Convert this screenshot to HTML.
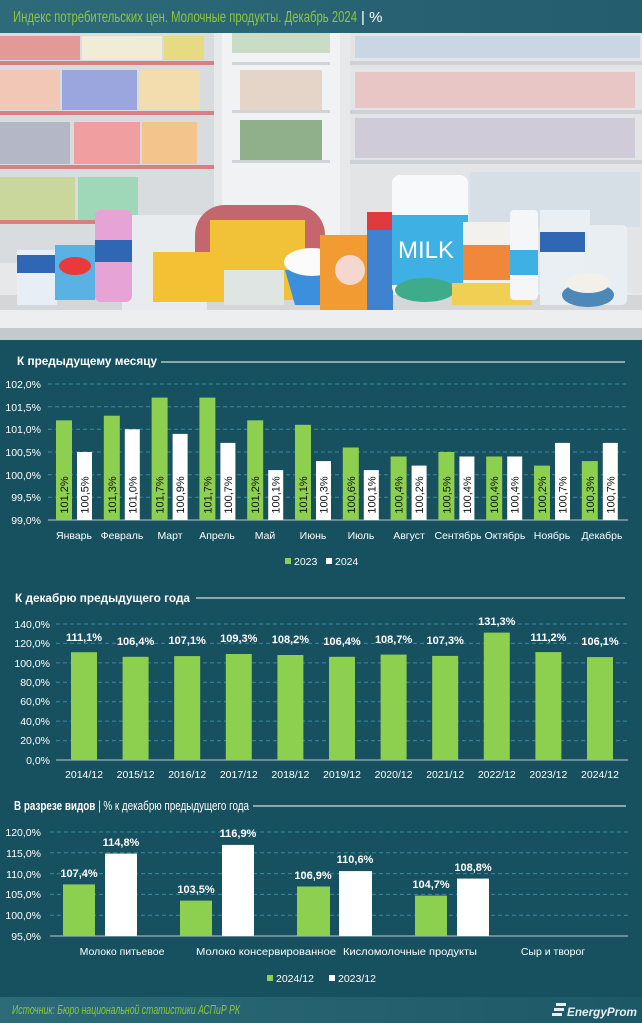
<!DOCTYPE html>
<html><head><meta charset="utf-8"><style>
body{margin:0;width:642px;height:1023px;overflow:hidden;background:#17505f;font-family:"Liberation Sans",sans-serif}
svg{display:block}
</style></head><body>
<svg width="642" height="1023" xmlns="http://www.w3.org/2000/svg" font-family="Liberation Sans, sans-serif">
<defs>
<linearGradient id="hd" x1="0" x2="1"><stop offset="0" stop-color="#2e6a7a"/><stop offset="1" stop-color="#245d6d"/></linearGradient>
<linearGradient id="ft" x1="0" x2="1"><stop offset="0" stop-color="#2d6b79"/><stop offset="1" stop-color="#1d5866"/></linearGradient>
</defs>
<rect width="642" height="1023" fill="#17505f"/>
<rect width="642" height="33" fill="url(#hd)"/>
<text x="13" y="22" font-size="16" fill="#8dc63f" textLength="344" lengthAdjust="spacingAndGlyphs">Индекс потребительских цен. Молочные продукты. Декабрь 2024</text>
<text x="361" y="22" font-size="15" fill="#fff">| %</text>

<g>
<rect x="0" y="33" width="642" height="305" fill="#e6e8ea"/>
<rect x="0" y="33" width="214" height="230" fill="#d9dcdf"/>
<rect x="0" y="36" width="80" height="24" fill="#e29a97"/><rect x="82" y="36" width="80" height="24" fill="#f1ecd6"/><rect x="164" y="36" width="40" height="24" fill="#e6da83"/>
<rect x="0" y="61" width="214" height="4" fill="#d97f80"/>
<rect x="0" y="70" width="60" height="40" fill="#f2c7b6"/><rect x="62" y="70" width="75" height="40" fill="#9aa6dd"/><rect x="140" y="70" width="60" height="40" fill="#f3dcae"/>
<rect x="0" y="111" width="214" height="4" fill="#d97f80"/>
<rect x="0" y="122" width="70" height="42" fill="#b3b7c6"/><rect x="74" y="122" width="66" height="42" fill="#f09ea0"/><rect x="142" y="122" width="55" height="42" fill="#f3c48c"/>
<rect x="0" y="165" width="214" height="4" fill="#d97f80"/>
<rect x="0" y="177" width="75" height="43" fill="#c9d69c"/><rect x="78" y="177" width="60" height="43" fill="#9fd7b9"/>
<rect x="0" y="220" width="214" height="4" fill="#d97f80"/>
<rect x="222" y="33" width="118" height="250" fill="#f0f2f3"/>
<rect x="232" y="33" width="98" height="20" fill="#c9dcc6"/>
<rect x="232" y="62" width="98" height="3" fill="#d0d4d6"/>
<rect x="240" y="70" width="82" height="40" fill="#e4d5c8"/>
<rect x="232" y="110" width="98" height="3" fill="#d0d4d6"/>
<rect x="240" y="120" width="82" height="42" fill="#8fb08b"/>
<rect x="232" y="160" width="98" height="3" fill="#d0d4d6"/>
<rect x="350" y="33" width="292" height="260" fill="#e2e4e6"/>
<rect x="355" y="36" width="285" height="22" fill="#c9d7e5"/>
<rect x="350" y="61" width="292" height="4" fill="#cfd2d5"/>
<rect x="355" y="72" width="280" height="36" fill="#e9c6c6"/>
<rect x="350" y="110" width="292" height="4" fill="#cfd2d5"/>
<rect x="355" y="118" width="280" height="40" fill="#cfcbd9"/>
<rect x="350" y="160" width="292" height="4" fill="#cfd2d5"/>
<rect x="470" y="172" width="170" height="55" fill="#d6dfe6"/>
<rect x="0" y="295" width="642" height="20" fill="#d4d6d8"/>
<rect x="0" y="310" width="642" height="18" fill="#eceeef"/>
<rect x="0" y="328" width="642" height="12" fill="#c6c9cc"/>
<rect x="122" y="215" width="85" height="95" fill="#e9ecee"/>
<rect x="195" y="205" width="130" height="95" rx="30" fill="#c4666e"/>
<rect x="210" y="220" width="95" height="80" fill="#f1c237"/>
<rect x="153" y="252" width="72" height="50" fill="#f3c133"/>
<rect x="224" y="270" width="60" height="35" fill="#dfe5e3"/>
<rect x="17" y="250" width="40" height="55" fill="#e8eef5"/><rect x="17" y="255" width="40" height="18" fill="#2f67b5"/>
<rect x="55" y="245" width="40" height="55" fill="#5ab1e3"/><ellipse cx="75" cy="266" rx="16" ry="9" fill="#e83a3a"/>
<rect x="95" y="210" width="37" height="92" rx="6" fill="#e6a4d6"/><rect x="95" y="240" width="37" height="22" fill="#2f67b5"/>
<path d="M285 270 L340 270 L330 305 L295 305Z" fill="#3c8fdc"/><ellipse cx="312" cy="262" rx="28" ry="14" fill="#fbfbfb"/>
<rect x="320" y="235" width="50" height="75" fill="#f19b32"/><circle cx="350" cy="270" r="15" fill="#f4d8cf"/>
<rect x="367" y="212" width="26" height="98" fill="#3e82d0"/><rect x="367" y="212" width="26" height="18" fill="#e03a3f"/>
<rect x="392" y="175" width="76" height="120" rx="8" fill="#f7f9fa"/><rect x="392" y="215" width="76" height="70" fill="#3fb0e3"/>
<text x="398" y="258" font-size="24" fill="#fff">MILK</text>
<ellipse cx="425" cy="290" rx="30" ry="12" fill="#3eab8a"/>
<rect x="463" y="222" width="48" height="75" fill="#f3f1ee"/><rect x="463" y="245" width="48" height="35" fill="#f0873a"/>
<rect x="452" y="283" width="80" height="22" fill="#f1cf52"/>
<rect x="510" y="210" width="28" height="90" rx="4" fill="#f4f6f8"/><rect x="510" y="250" width="28" height="25" fill="#3fb0e3"/>
<rect x="540" y="210" width="50" height="95" fill="#e9eff3"/><rect x="540" y="232" width="50" height="20" fill="#2f67b5"/>
<rect x="585" y="225" width="42" height="80" rx="5" fill="#e8eef2"/>
<ellipse cx="588" cy="295" rx="26" ry="12" fill="#4d88b8"/><ellipse cx="588" cy="283" rx="22" ry="10" fill="#f3f0ea"/>
</g>

<!-- CHART 1 -->
<text x="17" y="365" font-size="12" font-weight="bold" fill="#fff" textLength="140" lengthAdjust="spacingAndGlyphs">К предыдущему месяцу</text>
<line x1="161" y1="362" x2="625" y2="362" stroke="#fff" stroke-width="1"/>
<g stroke="#3a8aa3" stroke-dasharray="4,3" stroke-width="1">
<line x1="48" y1="384" x2="628" y2="384"/><line x1="48" y1="406.7" x2="628" y2="406.7"/><line x1="48" y1="429.3" x2="628" y2="429.3"/><line x1="48" y1="452" x2="628" y2="452"/><line x1="48" y1="474.7" x2="628" y2="474.7"/><line x1="48" y1="497.3" x2="628" y2="497.3"/>
</g>
<line x1="48" y1="520" x2="628" y2="520" stroke="#bfc7cb" stroke-width="1"/>
<g font-size="10.5" fill="#fff" text-anchor="end">
<text x="41" y="388">102,0%</text><text x="41" y="411">101,5%</text><text x="41" y="433">101,0%</text><text x="41" y="456">100,5%</text><text x="41" y="479">100,0%</text><text x="41" y="501">99,5%</text><text x="41" y="524">99,0%</text>
</g>
<g fill="#8dcf4f">
<rect x="56" y="420.3" width="16" height="99.7"/><rect x="103.8" y="415.7" width="16" height="104.3"/><rect x="151.6" y="397.6" width="16" height="122.4"/><rect x="199.4" y="397.6" width="16" height="122.4"/><rect x="247.2" y="420.3" width="16" height="99.7"/><rect x="295" y="424.8" width="16" height="95.2"/><rect x="342.8" y="447.5" width="16" height="72.5"/><rect x="390.6" y="456.5" width="16" height="63.5"/><rect x="438.4" y="452" width="16" height="68"/><rect x="486.2" y="456.5" width="16" height="63.5"/><rect x="534" y="465.6" width="16" height="54.4"/><rect x="581.8" y="461.1" width="16" height="58.9"/>
</g>
<g fill="#fff">
<rect x="77" y="452" width="15" height="68"/><rect x="124.8" y="429.3" width="15" height="90.7"/><rect x="172.6" y="433.9" width="15" height="86.1"/><rect x="220.4" y="442.9" width="15" height="77.1"/><rect x="268.2" y="470.1" width="15" height="49.9"/><rect x="316" y="461.1" width="15" height="58.9"/><rect x="363.8" y="470.1" width="15" height="49.9"/><rect x="411.6" y="465.6" width="15" height="54.4"/><rect x="459.4" y="456.5" width="15" height="63.5"/><rect x="507.2" y="456.5" width="15" height="63.5"/><rect x="555" y="442.9" width="15" height="77.1"/><rect x="602.8" y="442.9" width="15" height="77.1"/>
</g>
<g font-size="11" fill="#111" text-anchor="middle">
<text transform="translate(68,495) rotate(-90)">101,2%</text><text transform="translate(88.5,495) rotate(-90)">100,5%</text>
<text transform="translate(115.8,495) rotate(-90)">101,3%</text><text transform="translate(136.3,495) rotate(-90)">101,0%</text>
<text transform="translate(163.6,495) rotate(-90)">101,7%</text><text transform="translate(184.1,495) rotate(-90)">100,9%</text>
<text transform="translate(211.4,495) rotate(-90)">101,7%</text><text transform="translate(231.9,495) rotate(-90)">100,7%</text>
<text transform="translate(259.2,495) rotate(-90)">101,2%</text><text transform="translate(279.7,495) rotate(-90)">100,1%</text>
<text transform="translate(307,495) rotate(-90)">101,1%</text><text transform="translate(327.5,495) rotate(-90)">100,3%</text>
<text transform="translate(354.8,495) rotate(-90)">100,6%</text><text transform="translate(375.3,495) rotate(-90)">100,1%</text>
<text transform="translate(402.6,495) rotate(-90)">100,4%</text><text transform="translate(423.1,495) rotate(-90)">100,2%</text>
<text transform="translate(450.4,495) rotate(-90)">100,5%</text><text transform="translate(470.9,495) rotate(-90)">100,4%</text>
<text transform="translate(498.2,495) rotate(-90)">100,4%</text><text transform="translate(518.7,495) rotate(-90)">100,4%</text>
<text transform="translate(546,495) rotate(-90)">100,2%</text><text transform="translate(566.5,495) rotate(-90)">100,7%</text>
<text transform="translate(593.8,495) rotate(-90)">100,3%</text><text transform="translate(614.3,495) rotate(-90)">100,7%</text>
</g>
<g font-size="10.5" fill="#fff" text-anchor="middle">
<text x="74" y="539">Январь</text><text x="122" y="539">Февраль</text><text x="170" y="539">Март</text><text x="217" y="539">Апрель</text><text x="265" y="539">Май</text><text x="313" y="539">Июнь</text><text x="361" y="539">Июль</text><text x="409" y="539">Август</text><text x="458" y="539">Сентябрь</text><text x="505" y="539">Октябрь</text><text x="552" y="539">Ноябрь</text><text x="602" y="539">Декабрь</text>
</g>
<rect x="285" y="558" width="6" height="6" fill="#8dcf4f"/><text x="294" y="565" font-size="10.5" fill="#fff">2023</text>
<rect x="326" y="558" width="6" height="6" fill="#fff"/><text x="335" y="565" font-size="10.5" fill="#fff">2024</text>

<!-- CHART 2 -->
<text x="15" y="602" font-size="12" font-weight="bold" fill="#fff" textLength="175" lengthAdjust="spacingAndGlyphs">К декабрю предыдущего года</text>
<line x1="196" y1="598" x2="625" y2="598" stroke="#fff" stroke-width="1"/>
<g stroke="#3a8aa3" stroke-dasharray="4,3">
<line x1="56" y1="624" x2="628" y2="624"/><line x1="56" y1="643.4" x2="628" y2="643.4"/><line x1="56" y1="662.9" x2="628" y2="662.9"/><line x1="56" y1="682.3" x2="628" y2="682.3"/><line x1="56" y1="701.7" x2="628" y2="701.7"/><line x1="56" y1="721.1" x2="628" y2="721.1"/><line x1="56" y1="740.6" x2="628" y2="740.6"/>
</g>
<line x1="56" y1="760" x2="628" y2="760" stroke="#bfc7cb"/>
<g font-size="10.5" fill="#fff" text-anchor="end">
<text x="50" y="628">140,0%</text><text x="50" y="647">120,0%</text><text x="50" y="667">100,0%</text><text x="50" y="686">80,0%</text><text x="50" y="705">60,0%</text><text x="50" y="725">40,0%</text><text x="50" y="744">20,0%</text><text x="50" y="764">0,0%</text>
</g>
<g fill="#8dcf4f">
<rect x="71" y="652.2" width="26" height="107.8"/><rect x="122.6" y="656.8" width="26" height="103.2"/><rect x="174.2" y="656.1" width="26" height="103.9"/><rect x="225.8" y="654" width="26" height="106"/><rect x="277.4" y="655" width="26" height="105"/><rect x="329" y="656.8" width="26" height="103.2"/><rect x="380.6" y="654.6" width="26" height="105.4"/><rect x="432.2" y="655.9" width="26" height="104.1"/><rect x="483.8" y="632.6" width="26" height="127.4"/><rect x="535.4" y="652.1" width="26" height="107.9"/><rect x="587" y="657.1" width="26" height="102.9"/>
</g>
<g font-size="11" font-weight="bold" fill="#fff" text-anchor="middle">
<text x="84" y="641">111,1%</text><text x="135.6" y="645">106,4%</text><text x="187.2" y="644">107,1%</text><text x="238.8" y="642">109,3%</text><text x="290.4" y="643">108,2%</text><text x="342" y="645">106,4%</text><text x="393.6" y="643">108,7%</text><text x="445.2" y="644">107,3%</text><text x="496.8" y="625">131,3%</text><text x="548.4" y="641">111,2%</text><text x="600" y="645">106,1%</text>
</g>
<g font-size="10.5" fill="#fff" text-anchor="middle">
<text x="84" y="778">2014/12</text><text x="135.6" y="778">2015/12</text><text x="187.2" y="778">2016/12</text><text x="238.8" y="778">2017/12</text><text x="290.4" y="778">2018/12</text><text x="342" y="778">2019/12</text><text x="393.6" y="778">2020/12</text><text x="445.2" y="778">2021/12</text><text x="496.8" y="778">2022/12</text><text x="548.4" y="778">2023/12</text><text x="600" y="778">2024/12</text>
</g>

<!-- CHART 3 -->
<text x="14" y="810" font-size="13" fill="#fff" textLength="235" lengthAdjust="spacingAndGlyphs"><tspan font-weight="bold">В разрезе видов</tspan> | % к декабрю предыдущего года</text>
<line x1="253" y1="806" x2="626" y2="806" stroke="#fff"/>
<g stroke="#3a8aa3" stroke-dasharray="4,3">
<line x1="50" y1="832" x2="628" y2="832"/><line x1="50" y1="852.8" x2="628" y2="852.8"/><line x1="50" y1="873.6" x2="628" y2="873.6"/><line x1="50" y1="894.4" x2="628" y2="894.4"/><line x1="50" y1="915.2" x2="628" y2="915.2"/>
</g>
<line x1="50" y1="936" x2="628" y2="936" stroke="#bfc7cb"/>
<g font-size="10.5" fill="#fff" text-anchor="end">
<text x="41" y="836">120,0%</text><text x="41" y="857">115,0%</text><text x="41" y="878">110,0%</text><text x="41" y="898">105,0%</text><text x="41" y="919">100,0%</text><text x="41" y="940">95,0%</text>
</g>
<g fill="#8dcf4f">
<rect x="63" y="884.4" width="32" height="51.6"/><rect x="180" y="900.6" width="32" height="35.4"/><rect x="297" y="886.5" width="33" height="49.5"/><rect x="415" y="895.6" width="32" height="40.4"/>
</g>
<g fill="#fff">
<rect x="105" y="853.6" width="32" height="82.4"/><rect x="222" y="844.9" width="32" height="91.1"/><rect x="339" y="871.1" width="33" height="64.9"/><rect x="457" y="878.6" width="32" height="57.4"/>
</g>
<g font-size="11" font-weight="bold" fill="#fff" text-anchor="middle">
<text x="79" y="877">107,4%</text><text x="121" y="846">114,8%</text>
<text x="196" y="893">103,5%</text><text x="238" y="837">116,9%</text>
<text x="313" y="879">106,9%</text><text x="355" y="863">110,6%</text>
<text x="431" y="888">104,7%</text><text x="473" y="871">108,8%</text>
</g>
<g font-size="10.5" fill="#fff" text-anchor="middle">
<text x="122" y="955">Молоко питьевое</text><text x="266" y="955" textLength="140" lengthAdjust="spacingAndGlyphs">Молоко консервированное</text><text x="410" y="955" textLength="134" lengthAdjust="spacingAndGlyphs">Кисломолочные продукты</text><text x="553" y="955">Сыр и творог</text>
</g>
<rect x="267" y="975" width="6" height="6" fill="#8dcf4f"/><text x="276" y="982" font-size="10.5" fill="#fff">2024/12</text>
<rect x="329" y="975" width="6" height="6" fill="#fff"/><text x="338" y="982" font-size="10.5" fill="#fff">2023/12</text>

<!-- footer -->
<rect x="0" y="997" width="642" height="26" fill="url(#ft)"/>
<text x="12" y="1014" font-size="12.5" font-style="italic" fill="#8dc63f" textLength="228" lengthAdjust="spacingAndGlyphs">Источник: Бюро национальной статистики АСПиР РК</text>
<g fill="#e8eef0"><rect x="556" y="1003" width="10" height="3"/><rect x="554" y="1008" width="10" height="3"/><rect x="552" y="1013" width="10" height="3"/></g>
<text x="567" y="1016" font-size="12" font-style="italic" font-weight="bold" fill="#e8eef0" textLength="70" lengthAdjust="spacingAndGlyphs">EnergyProm</text>
</svg>
</body></html>
